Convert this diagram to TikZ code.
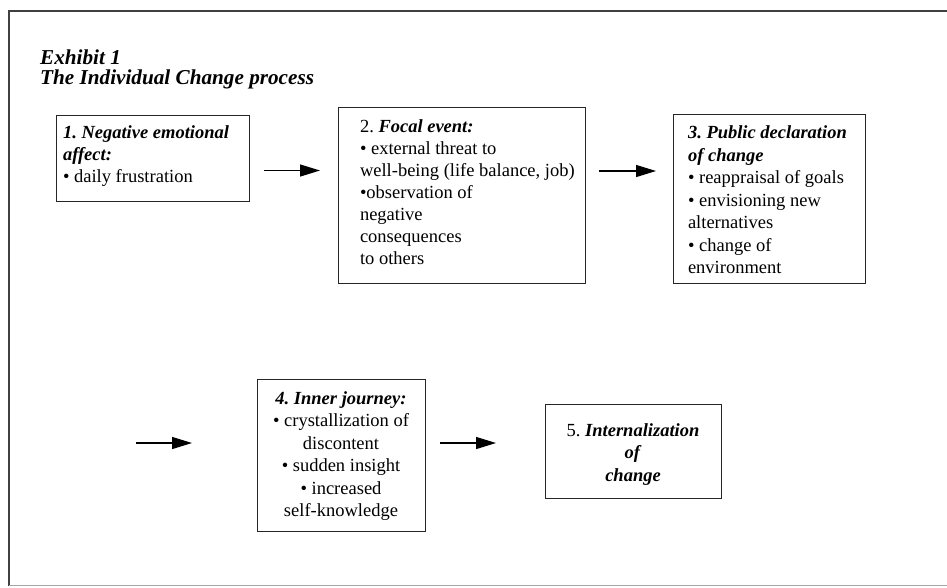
\documentclass[tikz,border=0pt]{standalone}
\usepackage{fontspec}
\setmainfont{Liberation Serif}
\usetikzlibrary{arrows.meta}
\frenchspacing
\tikzset{
  box/.style={draw=black!85, line width=1pt, rectangle, inner sep=0pt, outer sep=0pt,
    font=\fontsize{18.5}{22.5}\selectfont\frenchspacing},
  txt/.style={inner sep=0pt, outer sep=0pt, anchor=west, align=left,
    font=\fontsize{18.5}{22}\selectfont\frenchspacing},
  ctxt/.style={inner sep=0pt, outer sep=0pt, align=center,
    font=\fontsize{18.5}{22.5}\selectfont\frenchspacing},
  arr/.style={line width=1.3pt, -{Triangle[length=20pt,width=12pt]}},
  frame/.style={line width=1.3pt, draw=black!75},
  title/.style={font=\fontsize{21.2}{24}\selectfont\bfseries\itshape, anchor=base west, inner sep=0pt}
}
\begin{document}
\begin{tikzpicture}[x=1pt,y=-1pt]
\useasboundingbox (0,0) rectangle (947,587);
% outer frame
\draw[frame] (947,11) -- (9,11) -- (9,585.5);
\draw[line width=1.5pt, draw=black!35] (9,585.5) -- (947,585.5);
% title
\node[title] (t1) at (40,64) {Exhibit 1};
\node[title] (t2) at (40,84) {The Individual Change process};
% boxes
\node[box, minimum width=193pt, minimum height=86pt] (b1) at (152.5,158) {};
\node[txt] (b1t) at (63,156)
  {\textbf{\textit{1. Negative emotional}}\\ \textbf{\textit{affect:}}\\ • daily frustration};
\node[box, minimum width=247pt, minimum height=176pt] (b2) at (461.5,195) {};
\node[txt] (b2t) at (360,192.5)
  {2. \textbf{\textit{Focal event:}}\\ • external threat to\\ well-being (life balance, job)\\ •observation of\\ negative\\ consequences\\ to others};
\node[box, minimum width=192pt, minimum height=169pt] (b3) at (769,198.5) {};
\node[txt, font=\fontsize{18.5}{22.5}\selectfont] (b3t) at (688,200)
  {\textbf{\textit{3. Public declaration}}\\ \textbf{\textit{of change}}\\ • reappraisal of goals\\ • envisioning new\\ alternatives\\ • change of\\ environment};
\node[box, minimum width=168pt, minimum height=152pt] (b4) at (341,455) {};
\node[ctxt] (b4t) at (341,456)
  {\textbf{\textit{4. Inner journey:}}\\ • crystallization of\\ discontent\\ • sudden insight\\ • increased\\ self-knowledge};
\node[box, minimum width=176pt, minimum height=94pt] (b5) at (633,451) {};
\node[ctxt] (b5t) at (633,454.5)
  {5. \textbf{\textit{Internalization}}\\ \textbf{\textit{of}}\\ \textbf{\textit{change}}};
% arrows
\coordinate (a1s) at (264,170.5);
\coordinate (a1e) at (320,170.5);
\coordinate (a2s) at (599,171);
\coordinate (a2e) at (656,171);
\coordinate (a3s) at (136,443);
\coordinate (a3e) at (192,443);
\coordinate (a4s) at (440,443);
\coordinate (a4e) at (496,443);
\draw[arr] (a1s) -- (a1e);
\draw[arr] (a2s) -- (a2e);
\draw[arr] (a3s) -- (a3e);
\draw[arr] (a4s) -- (a4e);
\end{tikzpicture}
\end{document}
